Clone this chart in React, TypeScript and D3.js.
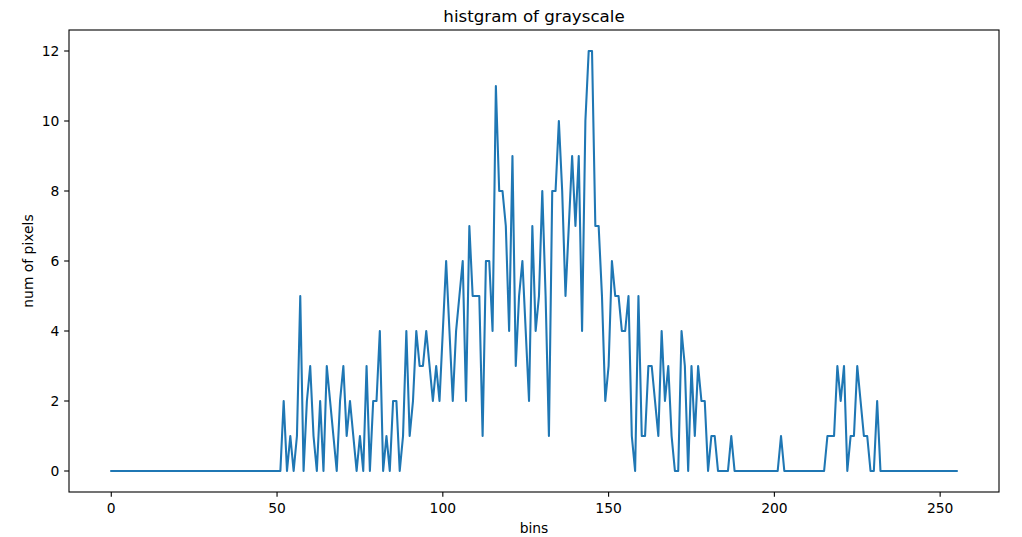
import React from "react";
import * as d3 from "d3";

// Histogram counts for bins 0..255
const counts: number[] = [
  // 0-51
  0, 0, 0, 0, 0, 0, 0, 0, 0, 0, 0, 0, 0, 0, 0, 0, 0, 0, 0, 0,
  0, 0, 0, 0, 0, 0, 0, 0, 0, 0, 0, 0, 0, 0, 0, 0, 0, 0, 0, 0,
  0, 0, 0, 0, 0, 0, 0, 0, 0, 0, 0, 0,
  // 52-99
  2, 0, 1, 0, 1, 5, 0, 2, 3, 1, 0, 2, 0, 3, 2, 1, 0, 2, 3, 1,
  2, 1, 0, 1, 0, 3, 0, 2, 2, 4, 0, 1, 0, 2, 2, 0, 1, 4, 1, 2,
  4, 3, 3, 4, 3, 2, 3, 2,
  // 100-149
  4, 6, 4, 2, 4, 5, 6, 2, 7, 5, 5, 5, 1, 6, 6, 4, 11, 8, 8, 7,
  4, 9, 3, 5, 6, 4, 2, 7, 4, 5, 8, 5, 1, 8, 8, 10, 8, 5, 7, 9,
  7, 9, 4, 10, 12, 12, 7, 7, 5, 2,
  // 150-199
  3, 6, 5, 5, 4, 4, 5, 1, 0, 5, 1, 1, 3, 3, 2, 1, 4, 2, 3, 1,
  0, 0, 4, 3, 0, 3, 1, 3, 2, 2, 0, 1, 1, 0, 0, 0, 0, 1, 0, 0,
  0, 0, 0, 0, 0, 0, 0, 0, 0, 0,
  // 200-255
  0, 0, 1, 0, 0, 0, 0, 0, 0, 0, 0, 0, 0, 0, 0, 0, 1, 1, 1, 3,
  2, 3, 0, 1, 1, 3, 2, 1, 1, 0, 0, 2, 0, 0, 0, 0, 0, 0, 0, 0,
  0, 0, 0, 0, 0, 0, 0, 0, 0, 0, 0, 0, 0, 0, 0, 0,
];

const xTicks: number[] = [0, 50, 100, 150, 200, 250];
const yTicks: number[] = [0, 2, 4, 6, 8, 10, 12];

const titleText = "histgram of grayscale";
const xLabel = "bins";
const yLabel = "num of pixels";

const W = 1022;
const H = 537;
const L = 69;
const R = 999;
const T = 30;
const B = 492;
const FONT = "DejaVu Sans, sans-serif";
const TICK = 4.86;

export default function App() {
  const n = counts.length;
  const xMax = n - 1;
  const yMax = d3.max(counts) as number;
  const xPad = xMax * 0.05;
  const yPad = yMax * 0.05;
  const x = d3.scaleLinear().domain([-xPad, xMax + xPad]).range([L, R]);
  const y = d3.scaleLinear().domain([-yPad, yMax + yPad]).range([B, T]);

  const line = d3
    .line<number>()
    .x((_, i) => x(i))
    .y((d) => y(d));

  return (
    <svg
      width={W}
      height={H}
      style={{ position: "absolute", left: 0, top: 0, background: "#fff" }}
      fontFamily={FONT}
    >
      <rect x={0} y={0} width={W} height={H} fill="#fff" />
      <path
        d={line(counts) || ""}
        fill="none"
        stroke="#1f77b4"
        strokeWidth={2.08}
        strokeLinejoin="round"
        strokeLinecap="square"
      />
      {/* spines */}
      <rect x={L} y={T} width={R - L} height={B - T} fill="none" stroke="#000" strokeWidth={1.1} />
      {/* x ticks */}
      {xTicks.map((t) => (
        <g key={"x" + t}>
          <line x1={x(t)} x2={x(t)} y1={B} y2={B + TICK} stroke="#000" strokeWidth={1.1} />
          <text x={x(t)} y={B + 20.5} textAnchor="middle" fontSize={13.89} fill="#000">
            {t}
          </text>
        </g>
      ))}
      {/* y ticks */}
      {yTicks.map((t) => (
        <g key={"y" + t}>
          <line x1={L - TICK} x2={L} y1={y(t)} y2={y(t)} stroke="#000" strokeWidth={1.1} />
          <text x={L - 9.7} y={y(t) + 5} textAnchor="end" fontSize={13.89} fill="#000">
            {t}
          </text>
        </g>
      ))}
      <text x={(L + R) / 2} y={22} textAnchor="middle" fontSize={16.67} fill="#000">
        {titleText}
      </text>
      <text x={(L + R) / 2} y={532.5} textAnchor="middle" fontSize={13.89} fill="#000">
        {xLabel}
      </text>
      <text
        transform={`translate(33, ${(T + B) / 2}) rotate(-90)`}
        textAnchor="middle"
        fontSize={13.89}
        fill="#000"
      >
        {yLabel}
      </text>
    </svg>
  );
}
